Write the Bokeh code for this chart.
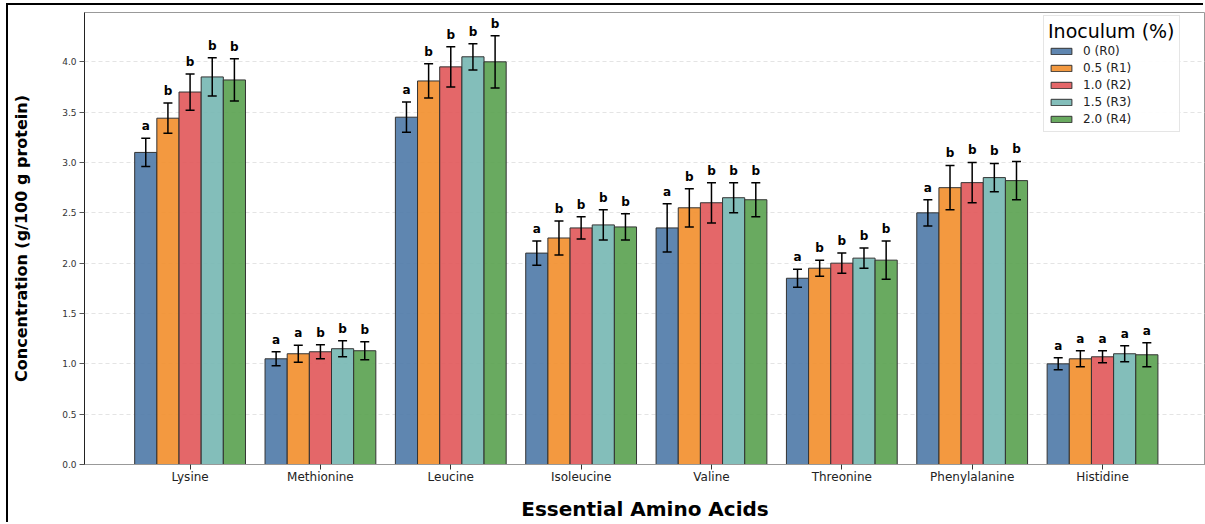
from bokeh.plotting import figure
from bokeh.models import ColumnDataSource, Range1d, FixedTicker, Whisker, TeeHead, Legend, LegendItem
from bokeh.core.properties import value
from bokeh.embed import file_html
from bokeh.resources import INLINE

amino_acids = ["Lysine", "Methionine", "Leucine", "Isoleucine", "Valine",
               "Threonine", "Phenylalanine", "Histidine"]
series_labels = ["0 (R0)", "0.5 (R1)", "1.0 (R2)", "1.5 (R3)", "2.0 (R4)"]
series_colors = ["#4E79A7", "#F28E2B", "#E15759", "#76B7B2", "#59A14F"]

r0_mean = [3.10, 1.05, 3.45, 2.10, 2.35, 1.85, 2.50, 1.00]
r0_sd = [0.14, 0.07, 0.15, 0.12, 0.24, 0.09, 0.13, 0.06]
r0_sig = ["a", "a", "a", "a", "a", "a", "a", "a"]

r1_mean = [3.44, 1.10, 3.81, 2.25, 2.55, 1.95, 2.75, 1.05]
r1_sd = [0.15, 0.085, 0.17, 0.17, 0.19, 0.08, 0.22, 0.08]
r1_sig = ["b", "a", "b", "b", "b", "b", "b", "a"]

r2_mean = [3.70, 1.12, 3.95, 2.35, 2.60, 2.00, 2.80, 1.07]
r2_sd = [0.18, 0.07, 0.20, 0.11, 0.20, 0.10, 0.20, 0.06]
r2_sig = ["b", "b", "b", "b", "b", "b", "b", "a"]

r3_mean = [3.85, 1.15, 4.05, 2.38, 2.65, 2.05, 2.85, 1.10]
r3_sd = [0.19, 0.08, 0.13, 0.15, 0.15, 0.10, 0.14, 0.08]
r3_sig = ["b", "b", "b", "b", "b", "b", "b", "a"]

r4_mean = [3.82, 1.13, 4.00, 2.36, 2.63, 2.03, 2.82, 1.09]
r4_sd = [0.21, 0.09, 0.26, 0.13, 0.17, 0.19, 0.19, 0.12]
r4_sig = ["b", "b", "b", "b", "b", "b", "b", "a"]

y_ticks = [0.0, 0.5, 1.0, 1.5, 2.0, 2.5, 3.0, 3.5, 4.0]

means = [r0_mean, r1_mean, r2_mean, r3_mean, r4_mean]
sds = [r0_sd, r1_sd, r2_sd, r3_sd, r4_sd]
sigs = [r0_sig, r1_sig, r2_sig, r3_sig, r4_sig]

FONT = "DejaVu Sans"
bar_w = 0.17

p = figure(width=1197, height=519, output_backend="svg", toolbar_location=None,
           x_range=Range1d(-0.81, 7.79), y_range=Range1d(0, 4.49),
           min_border_left=76, min_border_right=0, min_border_top=7, min_border_bottom=60,
           styles={"margin-left": "8px", "margin-top": "5px",
                   "box-shadow": "-2px -2px 0 0 black"})

items = []
for i in range(5):
    xs = [k + (i - 2) * bar_w for k in range(len(amino_acids))]
    upper = [m + s for m, s in zip(means[i], sds[i])]
    lower = [m - s for m, s in zip(means[i], sds[i])]
    label_y = [u + 0.05 for u in upper]
    src = ColumnDataSource(dict(x=xs, top=means[i], upper=upper, lower=lower,
                                ly=label_y, sig=sigs[i]))
    r = p.vbar(x="x", top="top", width=bar_w, source=src, fill_color=series_colors[i],
               fill_alpha=0.9, line_color="#333333", line_width=1)
    items.append(LegendItem(label=series_labels[i], renderers=[r]))
    w = Whisker(base="x", upper="upper", lower="lower", source=src, dimension="height",
                level="annotation", line_color="black", line_width=1.5,
                upper_head=TeeHead(size=9, line_color="black", line_width=1.5),
                lower_head=TeeHead(size=9, line_color="black", line_width=1.5))
    p.add_layout(w)
    p.text(x="x", y="ly", text="sig", source=src, text_align="center",
           text_baseline="bottom", text_font=value(FONT), text_font_size="12px",
           text_font_style="bold", text_color="black")

legend = Legend(items=items, location=(959, 332), title="Inoculum (%)",
                title_text_font=FONT, title_text_font_size="19px", title_text_font_style="normal",
                title_text_color="black", title_standoff=0,
                label_text_font=FONT, label_text_font_size="12px", label_text_color="#222222",
                label_height=17, glyph_height=8, glyph_width=26, label_standoff=9,
                spacing=0, padding=4, margin=0,
                border_line_color="#cccccc", border_line_width=1,
                background_fill_color="white", background_fill_alpha=0.9)
p.add_layout(legend)

p.xaxis.ticker = FixedTicker(ticks=list(range(len(amino_acids))))
p.xaxis.major_label_overrides = {k: name for k, name in enumerate(amino_acids)}
p.yaxis.ticker = FixedTicker(ticks=y_ticks)
p.yaxis.major_label_overrides = {t: f"{t:.1f}" for t in y_ticks}

p.xaxis.axis_label = "Essential Amino Acids"
p.yaxis.axis_label = "Concentration (g/100 g protein)"
for ax in (p.xaxis, p.yaxis):
    ax.axis_label_text_font = FONT
    ax.axis_label_text_font_style = "bold"
    ax.axis_label_text_color = "black"
    ax.major_label_text_font = FONT
    ax.minor_tick_line_color = None
    ax.major_tick_in = 0
    ax.major_tick_out = 5
p.xaxis.axis_label_text_font_size = "20px"
p.yaxis.axis_label_text_font_size = "16px"
p.xaxis.major_label_text_font_size = "12px"
p.yaxis.major_label_text_font_size = "9px"
p.xaxis.major_label_text_color = "#222222"
p.yaxis.major_label_text_color = "#333333"
p.xaxis.axis_line_color = "#999999"
p.xaxis.major_tick_line_color = "#333333"
p.yaxis.axis_line_color = "#222222"
p.yaxis.major_tick_line_color = "#555555"
p.xaxis.axis_label_standoff = 10
p.yaxis.axis_label_standoff = 28
p.xaxis.major_label_standoff = 0
p.yaxis.major_label_standoff = 3

p.xgrid.grid_line_color = None
p.ygrid.grid_line_color = "#dddddd"
p.ygrid.grid_line_dash = "4 3"
p.ygrid.grid_line_alpha = 0.8

p.outline_line_color = "#999999"
p.background_fill_color = "white"
p.border_fill_color = "white"

open("out.html", "w").write(file_html(p, INLINE))
